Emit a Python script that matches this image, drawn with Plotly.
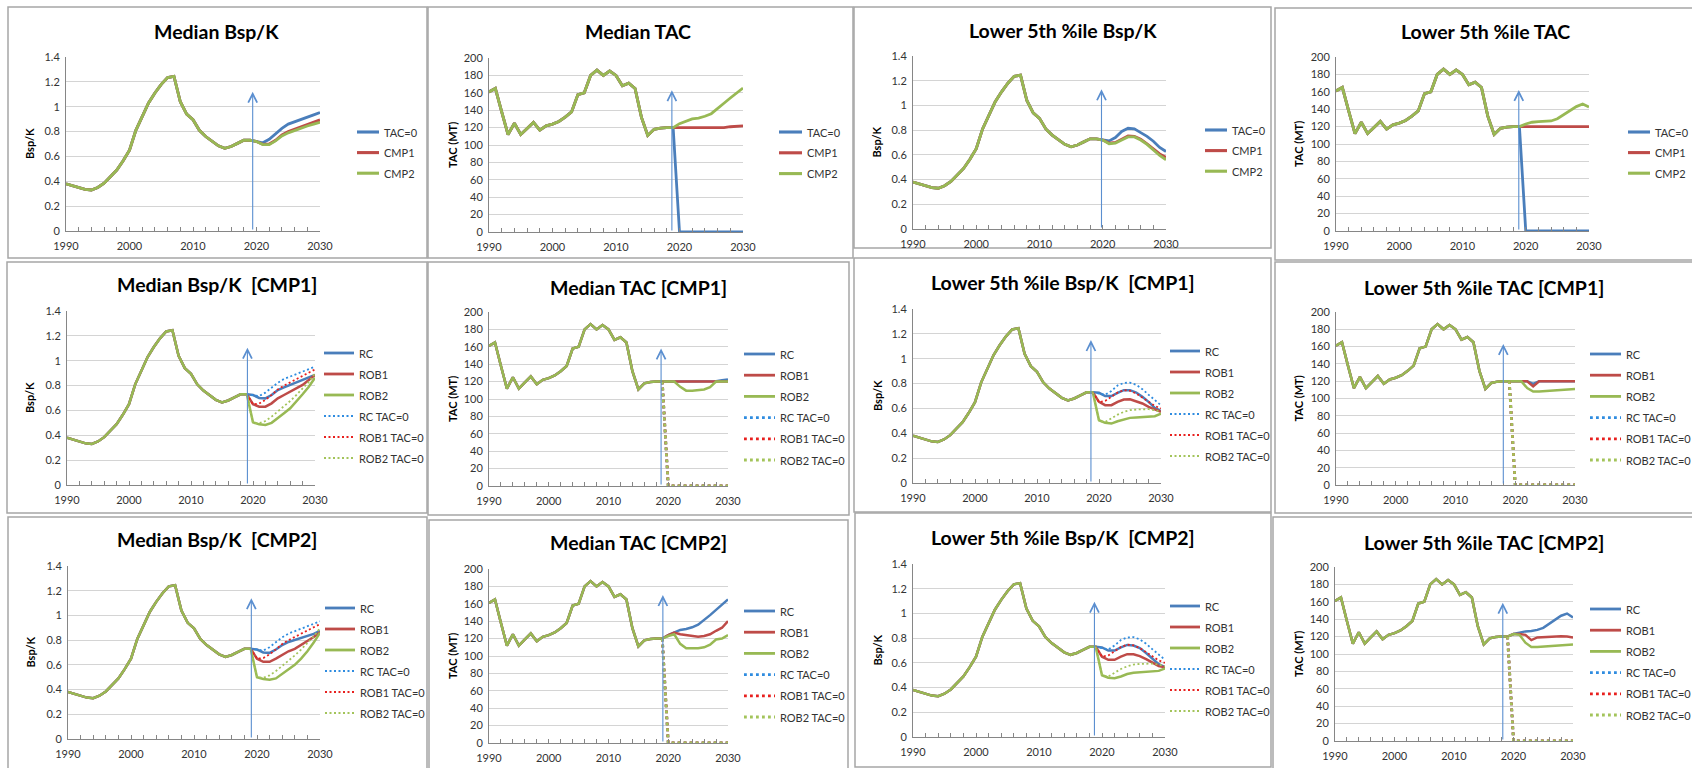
import plotly.graph_objects as go

W, H = 1692, 768

# ---------------- data ----------------
years_hist = list(range(1990, 2020))
years_proj = list(range(2020, 2031))
x_ticks = [1990, 2000, 2010, 2020, 2030]
bspk_ticks = [0, 0.2, 0.4, 0.6, 0.8, 1, 1.2, 1.4]
tac_ticks = [0, 20, 40, 60, 80, 100, 120, 140, 160, 180, 200]

hist_bspk = [0.38, 0.365, 0.35, 0.335, 0.33, 0.35, 0.385, 0.435, 0.49, 0.565,
             0.65, 0.81, 0.92, 1.03, 1.11, 1.18, 1.235, 1.245, 1.04, 0.94,
             0.895, 0.81, 0.76, 0.72, 0.685, 0.665, 0.68, 0.705, 0.73, 0.73]
hist_tac = [161, 165, 138, 112, 125, 112, 119, 126, 117, 122,
            124, 127, 132, 138, 158, 160, 180, 186, 180, 185,
            180, 168, 171, 165, 132, 111, 118, 119.5, 120, 120]

tac_zero = [0, 0, 0, 0, 0, 0, 0, 0, 0, 0, 0]

# Row 1 : CMP comparison
med_bspk_tac0 = [0.72, 0.71, 0.738, 0.786, 0.826, 0.86, 0.88, 0.90, 0.915, 0.934, 0.953]
med_bspk_cmp1 = [0.72, 0.697, 0.70, 0.73, 0.773, 0.80, 0.82, 0.84, 0.86, 0.875, 0.894]
med_bspk_cmp2 = [0.72, 0.695, 0.695, 0.725, 0.765, 0.79, 0.81, 0.83, 0.845, 0.86, 0.875]
med_tac_cmp1 = [120, 120, 120, 120, 120, 120, 120, 120, 121, 121.5, 122]
med_tac_cmp2 = [124.5, 127, 130, 131, 133, 136, 142.5, 148, 154, 160, 165.5]
low_bspk_tac0 = [0.72, 0.713, 0.74, 0.79, 0.815, 0.81, 0.78, 0.75, 0.71, 0.66, 0.627]
low_bspk_cmp1 = [0.72, 0.695, 0.70, 0.727, 0.754, 0.75, 0.727, 0.69, 0.646, 0.608, 0.58]
low_bspk_cmp2 = [0.72, 0.69, 0.695, 0.72, 0.745, 0.745, 0.72, 0.685, 0.64, 0.595, 0.56]
low_tac_cmp1 = [120, 120, 120, 120, 120, 120, 120, 120, 120, 120, 120]
low_tac_cmp2 = [123, 125, 125.7, 126, 126.5, 129, 134, 139, 143, 146, 142.5]

# Robustness : TAC=0 projections (shared)
med_bspk_rc_t0 = [0.72, 0.716, 0.743, 0.783, 0.823, 0.853, 0.872, 0.89, 0.91, 0.93, 0.952]
med_bspk_rob1_t0 = [0.65, 0.655, 0.685, 0.725, 0.768, 0.80, 0.826, 0.853, 0.88, 0.906, 0.93]
med_bspk_rob2_t0 = [0.50, 0.496, 0.515, 0.55, 0.59, 0.63, 0.676, 0.724, 0.778, 0.83, 0.898]
low_bspk_rc_t0 = [0.72, 0.71, 0.74, 0.785, 0.805, 0.808, 0.79, 0.755, 0.71, 0.665, 0.625]
low_bspk_rob1_t0 = [0.65, 0.66, 0.693, 0.728, 0.747, 0.742, 0.72, 0.685, 0.653, 0.62, 0.60]
low_bspk_rob2_t0 = [0.50, 0.49, 0.52, 0.55, 0.572, 0.586, 0.591, 0.594, 0.594, 0.586, 0.572]

# Robustness under CMP1
c1_med_bspk_rc = [0.724, 0.70, 0.697, 0.724, 0.764, 0.786, 0.805, 0.823, 0.845, 0.866, 0.885]
c1_med_bspk_rob1 = [0.65, 0.63, 0.63, 0.657, 0.697, 0.724, 0.75, 0.778, 0.805, 0.845, 0.885]
c1_med_bspk_rob2 = [0.504, 0.488, 0.483, 0.50, 0.536, 0.577, 0.617, 0.67, 0.73, 0.79, 0.863]
c1_med_tac_rc = [120, 120, 120, 120, 120, 120, 120, 120, 120.5, 121.5, 122.5]
c1_med_tac_rob1 = [120, 120, 120, 120, 120, 120, 120, 120, 120, 120, 120]
c1_med_tac_rob2 = [120, 120, 114, 109.6, 109.6, 110.4, 111, 113.5, 120, 120, 120]
c1_low_bspk_rc = [0.726, 0.70, 0.70, 0.726, 0.747, 0.747, 0.728, 0.693, 0.653, 0.605, 0.578]
c1_low_bspk_rob1 = [0.653, 0.626, 0.626, 0.653, 0.672, 0.674, 0.658, 0.64, 0.613, 0.594, 0.572]
c1_low_bspk_rob2 = [0.505, 0.484, 0.478, 0.497, 0.513, 0.524, 0.527, 0.532, 0.532, 0.537, 0.559]
c1_low_tac_rc = [120, 120, 120, 117, 120, 120, 120, 120, 120, 120, 120]
c1_low_tac_rob1 = [120, 120, 120, 114, 120, 120, 120, 120, 120, 120, 120]
c1_low_tac_rob2 = [120, 120, 112, 108, 108, 108.5, 109, 110, 110.5, 111, 111]

# Robustness under CMP2
c2_med_bspk_rc = [0.724, 0.70, 0.697, 0.724, 0.76, 0.785, 0.80, 0.815, 0.83, 0.85, 0.875]
c2_med_bspk_rob1 = [0.65, 0.625, 0.625, 0.65, 0.68, 0.71, 0.73, 0.76, 0.79, 0.825, 0.865]
c2_med_bspk_rob2 = [0.50, 0.485, 0.48, 0.49, 0.525, 0.56, 0.60, 0.65, 0.71, 0.78, 0.86]
c2_med_tac_rc = [124, 127, 130, 131, 133, 136, 141, 147, 153, 158.5, 165]
c2_med_tac_rob1 = [124, 127, 125, 124, 123, 122, 123, 125, 129, 132.5, 140]
c2_med_tac_rob2 = [123, 125, 114, 109, 109, 109, 110, 113, 119, 120, 124]
c2_low_bspk_rc = [0.725, 0.70, 0.70, 0.725, 0.745, 0.74, 0.72, 0.68, 0.635, 0.59, 0.565]
c2_low_bspk_rob1 = [0.65, 0.625, 0.625, 0.65, 0.67, 0.67, 0.655, 0.63, 0.60, 0.575, 0.565]
c2_low_bspk_rob2 = [0.50, 0.48, 0.475, 0.49, 0.51, 0.52, 0.525, 0.53, 0.53, 0.535, 0.555]
c2_low_tac_rc = [123, 124.6, 126, 126.5, 127.7, 130, 135, 140, 144, 146.5, 142]
c2_low_tac_rob1 = [123, 123, 122, 116, 119, 119.5, 119.5, 120, 120.5, 120, 119]
c2_low_tac_rob2 = [123, 122, 113, 108, 108, 108.5, 109, 110, 110.5, 111, 111]

# ---------------- style ----------------
FONT = "Lato"
TXT = "#333333"
AX = "#868686"
GRID = "#D4D4D4"
BOX = "#A6A6A6"
ARROW = "#5B8FD0"
C_BLUE, C_RED, C_GREEN = "#4A7EBB", "#BE4B48", "#98B954"
C_BLUE_D, C_RED_D, C_GREEN_D = "#2F8CE0", "#E8201E", "#A3C45A"

fig = go.Figure()
layout = dict(width=W, height=H, margin=dict(l=0, r=0, t=0, b=0, pad=0, autoexpand=False),
              paper_bgcolor="white", plot_bgcolor="white", showlegend=False,
              font=dict(family=FONT, color=TXT), shapes=[], annotations=[])


def solid(name, proj, hist, color, width=2.8):
    return dict(name=name, x=years_hist + years_proj, y=hist + proj,
                line=dict(color=color, width=width, dash="solid"))


def dotted(name, proj, hist, color, width, dash):
    return dict(name=name, x=[years_hist[-1]] + years_proj, y=[hist[-1]] + proj,
                line=dict(color=color, width=width, dash=dash))


def robust_bspk(rc, r1, r2, rc0, r10, r20):
    return [solid("RC", rc, hist_bspk, C_BLUE, 2.5),
            solid("ROB1", r1, hist_bspk, C_RED, 2.5),
            solid("ROB2", r2, hist_bspk, C_GREEN, 2.5),
            dotted("RC TAC=0", rc0, hist_bspk, C_BLUE_D, 1.8, "2px,2.5px"),
            dotted("ROB1 TAC=0", r10, hist_bspk, C_RED_D, 1.8, "2px,2.5px"),
            dotted("ROB2 TAC=0", r20, hist_bspk, C_GREEN_D, 1.8, "2px,2.5px")]


def robust_tac(rc, r1, r2):
    return [solid("RC", rc, hist_tac, C_BLUE, 2.5),
            solid("ROB1", r1, hist_tac, C_RED, 2.5),
            solid("ROB2", r2, hist_tac, C_GREEN, 2.5),
            dotted("RC TAC=0", tac_zero, hist_tac, C_BLUE_D, 2.8, "2.8px,3.2px"),
            dotted("ROB1 TAC=0", tac_zero, hist_tac, C_RED_D, 2.8, "2.8px,3.2px"),
            dotted("ROB2 TAC=0", tac_zero, hist_tac, C_GREEN_D, 2.8, "2.8px,3.2px")]


panels = [
    dict(box=(8, 7, 427, 258), plot=(66, 57, 320, 231), title="Median Bsp/K", tpos=(217, 32),
         ytitle="Bsp/K", ytx=29, leg=(382, 132, 20.6, 22), arrow=(2019.4, 1.12), kind="b",
         series=[solid("TAC=0", med_bspk_tac0, hist_bspk, C_BLUE),
                 solid("CMP1", med_bspk_cmp1, hist_bspk, C_RED),
                 solid("CMP2", med_bspk_cmp2, hist_bspk, C_GREEN)]),
    dict(box=(428, 7, 853, 258), plot=(489, 58, 743, 232), title="Median TAC", tpos=(638, 32),
         ytitle="TAC (MT)", ytx=452, leg=(805, 132, 20.8, 23), arrow=(2018.8, 163), kind="t",
         series=[solid("TAC=0", tac_zero, hist_tac, C_BLUE),
                 solid("CMP1", med_tac_cmp1, hist_tac, C_RED),
                 solid("CMP2", med_tac_cmp2, hist_tac, C_GREEN)]),
    dict(box=(854, 7, 1271, 248), plot=(913, 56, 1166, 229), title="Lower 5th %ile Bsp/K", tpos=(1063, 30),
         ytitle="Bsp/K", ytx=876, leg=(1230, 130, 20.6, 22), arrow=(2019.8, 1.13), kind="b",
         series=[solid("TAC=0", low_bspk_tac0, hist_bspk, C_BLUE),
                 solid("CMP1", low_bspk_cmp1, hist_bspk, C_RED),
                 solid("CMP2", low_bspk_cmp2, hist_bspk, C_GREEN)]),
    dict(box=(1275, 8, 1700, 260), plot=(1336, 57, 1589, 231), title="Lower 5th %ile TAC", tpos=(1485, 32),
         ytitle="TAC (MT)", ytx=1298, leg=(1653, 132, 20.6, 22), arrow=(2018.9, 162), kind="t",
         series=[solid("TAC=0", tac_zero, hist_tac, C_BLUE),
                 solid("CMP1", low_tac_cmp1, hist_tac, C_RED),
                 solid("CMP2", low_tac_cmp2, hist_tac, C_GREEN)]),
    dict(box=(7, 262, 427, 513), plot=(67, 311, 315, 485), title="Median Bsp/K  [CMP1]", tpos=(217, 284),
         ytitle="Bsp/K", ytx=29, leg=(357, 353, 21, 30), arrow=(2019.1, 1.105), kind="b",
         series=robust_bspk(c1_med_bspk_rc, c1_med_bspk_rob1, c1_med_bspk_rob2,
                            med_bspk_rc_t0, med_bspk_rob1_t0, med_bspk_rob2_t0)),
    dict(box=(428, 262, 849, 515), plot=(489, 312, 728, 486), title="Median TAC [CMP1]", tpos=(638, 287),
         ytitle="TAC (MT)", ytx=452, leg=(778, 354, 21.2, 31), arrow=(2018.8, 158), kind="t",
         series=robust_tac(c1_med_tac_rc, c1_med_tac_rob1, c1_med_tac_rob2)),
    dict(box=(854, 258, 1271, 512), plot=(913, 309, 1161, 483), title="Lower 5th %ile Bsp/K  [CMP1]", tpos=(1063, 283),
         ytitle="Bsp/K", ytx=877, leg=(1203, 351, 21, 30), arrow=(2018.7, 1.15), kind="b",
         series=robust_bspk(c1_low_bspk_rc, c1_low_bspk_rob1, c1_low_bspk_rob2,
                            low_bspk_rc_t0, low_bspk_rob1_t0, low_bspk_rob2_t0)),
    dict(box=(1275, 262, 1700, 513), plot=(1336, 312, 1575, 485), title="Lower 5th %ile TAC [CMP1]", tpos=(1484, 287),
         ytitle="TAC (MT)", ytx=1298, leg=(1624, 354, 21.2, 31), arrow=(2018.0, 163), kind="t",
         series=robust_tac(c1_low_tac_rc, c1_low_tac_rob1, c1_low_tac_rob2)),
    dict(box=(8, 517, 427, 775), plot=(68, 566, 320, 739), title="Median Bsp/K  [CMP2]", tpos=(217, 539),
         ytitle="Bsp/K", ytx=30, leg=(358, 608, 21, 30), arrow=(2019.1, 1.14), kind="b",
         series=robust_bspk(c2_med_bspk_rc, c2_med_bspk_rob1, c2_med_bspk_rob2,
                            med_bspk_rc_t0, med_bspk_rob1_t0, med_bspk_rob2_t0)),
    dict(box=(429, 520, 848, 775), plot=(489, 569, 728, 743), title="Median TAC [CMP2]", tpos=(638, 542),
         ytitle="TAC (MT)", ytx=452, leg=(778, 611, 21.2, 31), arrow=(2019.1, 170), kind="t",
         series=robust_tac(c2_med_tac_rc, c2_med_tac_rob1, c2_med_tac_rob2)),
    dict(box=(855, 513, 1271, 767), plot=(913, 564, 1165, 737), title="Lower 5th %ile Bsp/K  [CMP2]", tpos=(1063, 537),
         ytitle="Bsp/K", ytx=877, leg=(1203, 606, 21, 30), arrow=(2018.8, 1.095), kind="b",
         series=robust_bspk(c2_low_bspk_rc, c2_low_bspk_rob1, c2_low_bspk_rob2,
                            low_bspk_rc_t0, low_bspk_rob1_t0, low_bspk_rob2_t0)),
    dict(box=(1273, 517, 1700, 775), plot=(1335, 567, 1573, 741), title="Lower 5th %ile TAC [CMP2]", tpos=(1484, 542),
         ytitle="TAC (MT)", ytx=1298, leg=(1624, 609, 21.2, 31), arrow=(2018.2, 159), kind="t",
         series=robust_tac(c2_low_tac_rc, c2_low_tac_rob1, c2_low_tac_rob2)),
]

for i, p in enumerate(panels, start=1):
    sfx = "" if i == 1 else str(i)
    xr, yr = "x" + sfx, "y" + sfx
    l, t, r, b = p["plot"]
    if p["kind"] == "b":
        yticks, yrange = bspk_ticks, [0, 1.4]
    else:
        yticks, yrange = tac_ticks, [0, 200]

    layout["xaxis" + sfx] = dict(
        domain=[l / W, r / W], anchor=yr, range=[1990, 2030], tickmode="array",
        tickvals=x_ticks, ticks="inside", ticklen=4, tickcolor=AX, showline=True,
        linecolor=AX, linewidth=1, showgrid=False, zeroline=False, ticklabelstandoff=5,
        minor=dict(dtick=2, tick0=1990, ticks="inside", ticklen=4, tickcolor=AX, showgrid=False),
        tickfont=dict(size=11, color=TXT, family=FONT), fixedrange=True, automargin=False)
    layout["yaxis" + sfx] = dict(
        domain=[1 - b / H, 1 - t / H], anchor=xr, range=yrange, tickmode="array",
        tickvals=yticks, ticks="", showline=True, linecolor=AX, linewidth=1,
        showgrid=True, gridcolor=GRID, gridwidth=1, zeroline=False, ticklabelstandoff=3,
        tickfont=dict(size=11, color=TXT, family=FONT), fixedrange=True, automargin=False)

    for s in p["series"]:
        fig.add_trace(go.Scatter(x=s["x"], y=s["y"], mode="lines", name=s["name"],
                                 line=s["line"], xaxis=xr, yaxis=yr,
                                 showlegend=False, hoverinfo="skip"))

    # legend key (sample line + label) for every series of the panel
    tx, ty, gap, swatch = p["leg"]
    for k, s in enumerate(p["series"]):
        yy = 1 - (ty + k * gap) / H
        ln = s["line"]
        lw = ln["width"] + 0.3 if ln["dash"] == "solid" else ln["width"]
        layout["shapes"].append(dict(type="line", xref="paper", yref="paper",
                                     x0=(tx - 3 - swatch) / W, x1=(tx - 3) / W, y0=yy, y1=yy,
                                     line=dict(color=ln["color"], width=lw, dash=ln["dash"]),
                                     layer="above"))
        layout["annotations"].append(dict(text=s["name"], xref="paper", yref="paper",
                                          x=tx / W, y=yy, xanchor="left", yanchor="middle",
                                          showarrow=False,
                                          font=dict(size=11, color=TXT, family=FONT)))

    bx0, by0, bx1, by1 = p["box"]
    layout["shapes"].append(dict(type="rect", xref="paper", yref="paper",
                                 x0=bx0 / W, x1=bx1 / W, y0=1 - by1 / H, y1=1 - by0 / H,
                                 line=dict(color=BOX, width=1.5), fillcolor="rgba(0,0,0,0)",
                                 layer="below"))
    cx, cy = p["tpos"]
    layout["annotations"].append(dict(text="<b>" + p["title"] + "</b>", xref="paper", yref="paper",
                                      x=cx / W, y=1 - cy / H, xanchor="center", yanchor="middle",
                                      showarrow=False, font=dict(size=19.5, color="#000000", family=FONT)))
    layout["annotations"].append(dict(text="<b>" + p["ytitle"] + "</b>", xref="paper", yref="paper",
                                      x=p["ytx"] / W, y=1 - ((t + b) / 2) / H, xanchor="center",
                                      yanchor="middle", textangle=-90, showarrow=False,
                                      font=dict(size=11, color="#000000", family=FONT)))
    axx, top = p["arrow"]
    layout["annotations"].append(dict(text="", x=axx, y=top, xref=xr, yref=yr,
                                      ax=axx, ay=0, axref=xr, ayref=yr, showarrow=True,
                                      arrowhead=5, arrowsize=1.6, arrowwidth=1.1,
                                      arrowcolor=ARROW, standoff=0))

fig.update_layout(**layout)
fig.write_html("out.html", config={"displayModeBar": False},
               post_script="document.body.style.margin='0px';document.body.style.overflow='hidden';")
